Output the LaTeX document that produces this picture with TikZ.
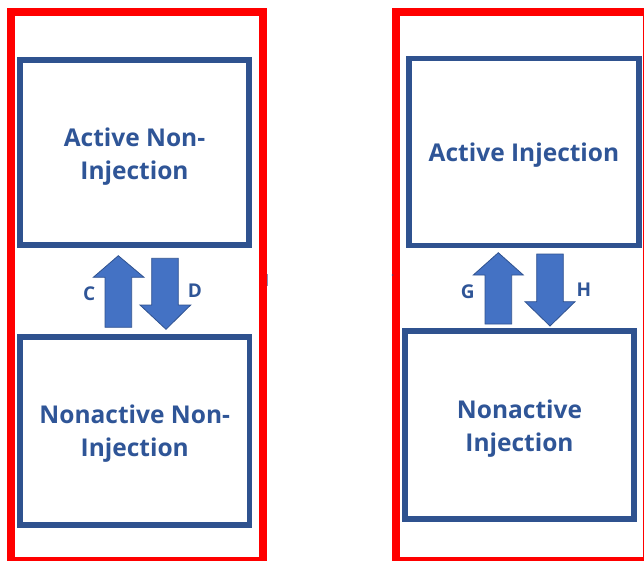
\documentclass[tikz,border=0pt]{standalone}
\usepackage{fontspec}
\setmainfont{Open Sans}
\begin{document}
\begin{tikzpicture}[x=1pt,y=-1pt,
  frame/.style={draw=red, line width=8pt},
  box/.style={draw=boxblue, line width=5.5pt, fill=white, inner sep=0pt},
  boxtext/.style={align=center, inner sep=0pt, text=textblue,
    font=\fontsize{24.5}{33}\selectfont\bfseries},
  blockarrow/.style={fill=arrowblue, draw=boxblue, line width=0.8pt, line join=miter},
  lab/.style={text=textblue, font=\fontsize{19}{20}\selectfont\bfseries, inner sep=0pt}]
\definecolor{boxblue}{HTML}{2F528F}
\definecolor{textblue}{HTML}{2F5597}
\definecolor{arrowblue}{HTML}{4472C4}
\useasboundingbox (0,0) rectangle (644,560);
% red frames
\draw[frame] (11,12) rectangle (262.5,561);
\draw[frame] (396,12) rectangle (647,561);
% boxes
\node[box, minimum width=229pt, minimum height=185pt] (ani) at (134.5,152.5) {};
\node[box, minimum width=229.5pt, minimum height=188pt] (nni) at (134.75,431) {};
\node[box, minimum width=230pt, minimum height=187pt] (ai) at (524,152) {};
\node[box, minimum width=229pt, minimum height=188pt] (ni) at (519.5,425) {};
\node[boxtext] (aniT) at ([yshift=-4.5pt]ani.center) {Active Non-\\Injection};
\node[boxtext] (nniT) at ([yshift=-3pt]nni.center) {Nonactive Non-\\Injection};
\node[boxtext] (aiT) at ([yshift=-3.5pt]ai.center) {Active Injection};
\node[boxtext] (niT) at ([yshift=-4pt]ni.center) {Nonactive\\Injection};
% block arrows left
\draw[blockarrow] (118.3,255.7) -- (144,277.3) -- (131.7,277.3) -- (131.7,327.3) -- (105,327.3) -- (105,277.3) -- (93.3,277.3) -- cycle;
\draw[blockarrow] (166,329.3) -- (190.7,305) -- (178.3,305) -- (178.3,258.3) -- (151.7,258.3) -- (151.7,305) -- (140,305) -- cycle;
% block arrows right
\draw[blockarrow] (498.3,252.7) -- (523.3,275) -- (511.7,275) -- (511.7,324) -- (485,324) -- (485,275) -- (473.3,275) -- cycle;
\draw[blockarrow] (550,326) -- (575,301.7) -- (563.3,301.7) -- (563.3,254) -- (536.7,254) -- (536.7,301.7) -- (525,301.7) -- cycle;
% labels
\node[lab] (c) at (89.3,293.3) {C};
\node[lab] (d) at (195,290.7) {D};
\node[lab] (g) at (467.7,291.7) {G};
\node[lab] (h) at (584,290) {H};
% small marks
\draw[boxblue!60, line width=1pt] (267,274) -- (267,286);
\fill[boxblue!70!red] (392.5,275) circle (1pt);
\end{tikzpicture}
\end{document}
